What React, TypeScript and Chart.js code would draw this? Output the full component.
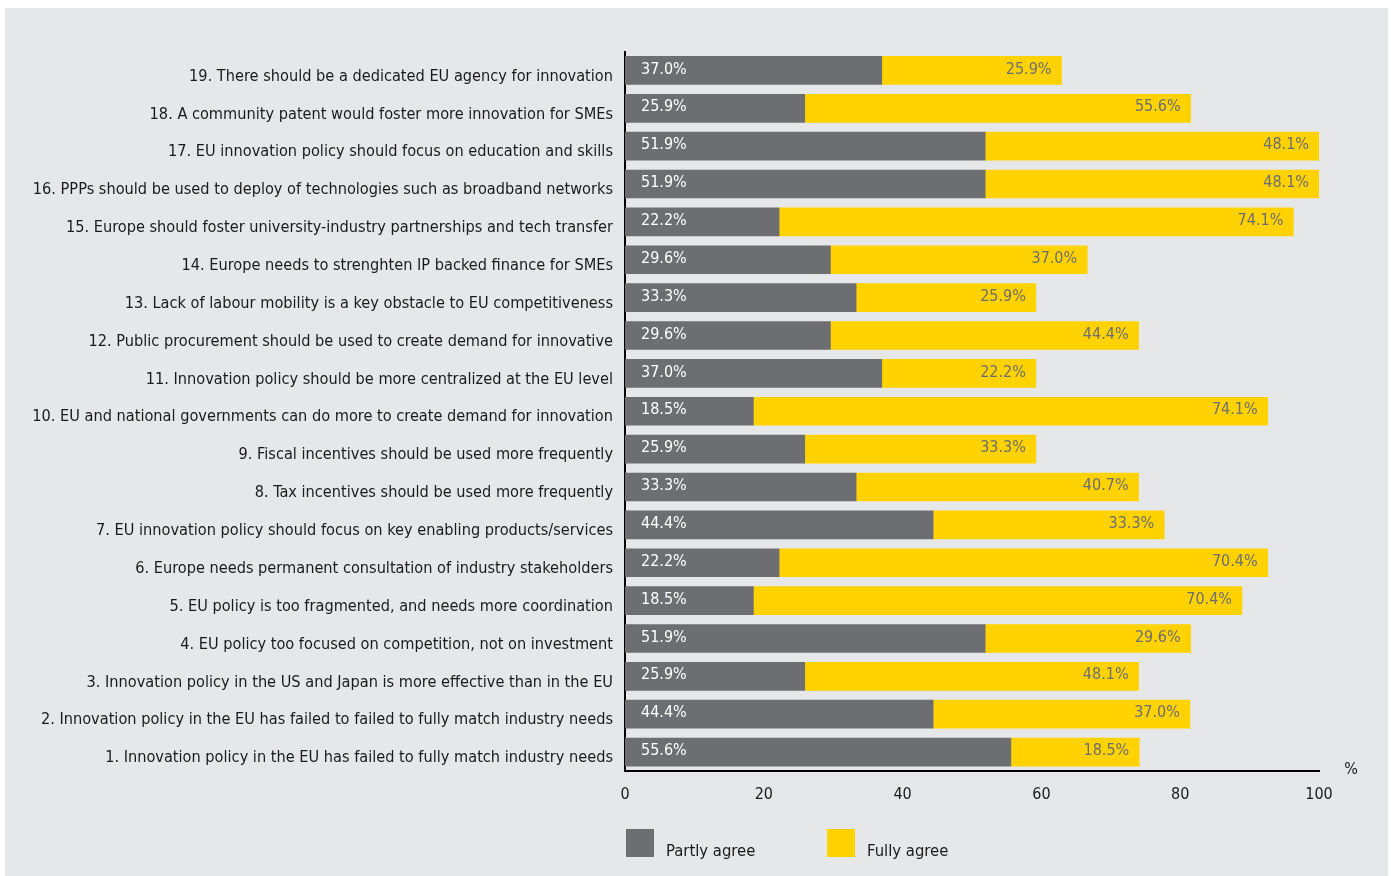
import React, { useEffect, useRef } from 'react';
import { Chart, registerables } from 'chart.js';
Chart.register(...registerables);

const categories = [
  '19. There should be a dedicated EU agency for innovation',
  '18. A community patent would foster more innovation for SMEs',
  '17. EU innovation policy should focus on education and skills',
  '16. PPPs should be used to deploy of technologies such as broadband networks',
  '15. Europe should foster university-industry partnerships and tech transfer',
  '14. Europe needs to strenghten IP backed finance for SMEs',
  '13. Lack of labour mobility is a key obstacle to EU competitiveness',
  '12. Public procurement should be used to create demand for innovative',
  '11. Innovation policy should be more centralized at the EU level',
  '10. EU and national governments can do more to create demand for innovation',
  '9. Fiscal incentives should be used more frequently',
  '8. Tax incentives should be used more frequently',
  '7. EU innovation policy should focus on key enabling products/services',
  '6. Europe needs permanent consultation of industry stakeholders',
  '5. EU policy is too fragmented, and needs more coordination',
  '4. EU policy too focused on competition, not on investment',
  '3. Innovation policy in the US and Japan is more effective than in the EU',
  '2. Innovation policy in the EU has failed to failed to fully match industry needs',
  '1. Innovation policy in the EU has failed to fully match industry needs',
];
const partlyAgree = [37.0, 25.9, 51.9, 51.9, 22.2, 29.6, 33.3, 29.6, 37.0, 18.5, 25.9, 33.3, 44.4, 22.2, 18.5, 51.9, 25.9, 44.4, 55.6];
const fullyAgree = [25.9, 55.6, 48.1, 48.1, 74.1, 37.0, 25.9, 44.4, 22.2, 74.1, 33.3, 40.7, 33.3, 70.4, 70.4, 29.6, 48.1, 37.0, 18.5];
const seriesNames = ['Partly agree', 'Fully agree'];
const axisUnit = '%';

const GRAY = '#6d6e71';
const YELLOW = '#ffd200';
const BG = '#e6e7e8';
const FONT = "'DejaVu Sans Condensed', 'Liberation Sans Narrow', sans-serif";

const overlayPlugin = {
  id: 'overlay',
  afterDatasetsDraw(chart: any) {
    const ctx = chart.ctx;
    ctx.save();
    ctx.font = `16px ${FONT}`;
    ctx.textBaseline = 'middle';
    chart.data.datasets.forEach((ds: any, di: number) => {
      const meta = chart.getDatasetMeta(di);
      meta.data.forEach((el: any, i: number) => {
        const v = ds.data[i];
        const txt = v.toFixed(1) + '%';
        if (di === 0) {
          ctx.fillStyle = '#ffffff';
          ctx.textAlign = 'left';
          ctx.fillText(txt, el.base + 16, el.y - 1);
        } else {
          ctx.fillStyle = GRAY;
          ctx.textAlign = 'right';
          ctx.fillText(txt, el.x - 10, el.y - 1);
        }
      });
    });
    // unit label
    const xs = chart.scales.x;
    ctx.fillStyle = '#1a1a1a';
    ctx.textAlign = 'center';
    ctx.fillText(axisUnit, xs.right + 32, xs.top - 1);
    // legend
    ctx.font = `16.5px ${FONT}`;
    const legendItems = [
      { x: 621, color: GRAY, label: seriesNames[0] },
      { x: 822, color: YELLOW, label: seriesNames[1] },
    ];
    legendItems.forEach((it) => {
      ctx.fillStyle = it.color;
      ctx.fillRect(it.x, 821, 28, 28);
      ctx.fillStyle = '#1a1a1a';
      ctx.textAlign = 'left';
      ctx.fillText(it.label, it.x + 40, 844);
    });
    ctx.restore();
  },
};

export default function App() {
  const ref = useRef<HTMLCanvasElement>(null);
  useEffect(() => {
    const chart = new Chart(ref.current!, {
      type: 'bar',
      data: {
        labels: categories,
        datasets: [
          { label: seriesNames[0], data: partlyAgree, backgroundColor: GRAY, barThickness: 28 },
          { label: seriesNames[1], data: fullyAgree, backgroundColor: YELLOW, barThickness: 28 },
        ],
      },
      plugins: [overlayPlugin],
      options: {
        indexAxis: 'y',
        animation: false,
        responsive: true,
        maintainAspectRatio: false,
        layout: { padding: { top: 43.5, right: 69, left: 0, bottom: 0 } },
        plugins: { legend: { display: false }, tooltip: { enabled: false } },
        scales: {
          x: {
            stacked: true,
            min: 0,
            max: 100,
            grid: { display: false, drawTicks: false },
            border: { color: '#000', width: 2 },
            ticks: { stepSize: 20, color: '#1a1a1a', padding: 14, font: { family: FONT, size: 16 } },
            afterFit: (s: any) => { s.height = 105; },
          },
          y: {
            stacked: true,
            grid: { display: false, drawTicks: false },
            border: { color: '#000', width: 2 },
            ticks: { color: '#1a1a1a', padding: 12, labelOffset: 6, font: { family: FONT, size: 16.2 }, autoSkip: false },
            afterFit: (s: any) => { s.width = 620; },
          },
        },
      },
    });
    return () => chart.destroy();
  }, []);
  return (
    <div style={{ position: 'absolute', left: 5, top: 8, width: 1383, height: 868, background: BG }}>
      <canvas ref={ref} />
    </div>
  );
}
